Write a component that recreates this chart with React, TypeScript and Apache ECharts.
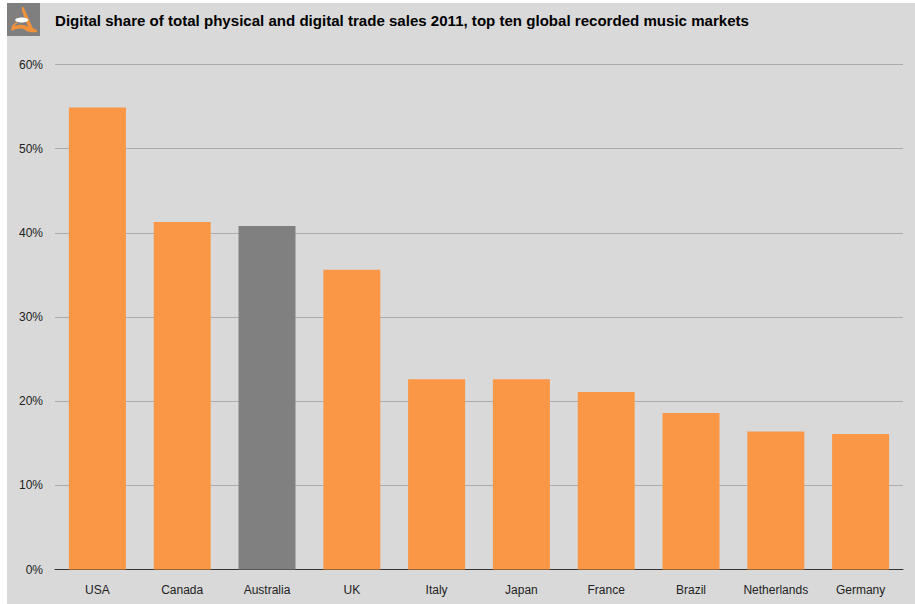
import React, { useEffect, useRef } from "react";
import * as echarts from "echarts";

const categories = ["USA", "Canada", "Australia", "UK", "Italy", "Japan", "France", "Brazil", "Netherlands", "Germany"];
const shares = [54.9, 41.3, 40.8, 35.6, 22.6, 22.6, 21.1, 18.6, 16.4, 16.1];
const highlighted = "Australia";
const title = "Digital share of total physical and digital trade sales 2011, top ten global recorded music markets";

echarts.graphic.registerShape(
  "logoMark",
  echarts.graphic.extendPath(
    "M22 7 L23.5 7 L31 24 C32 28 34 29 37 30 L37 32 C32 33 28 32 25 30 C21 27 16 29 11 31 L12 26 L16 22 L18 23 C16 24 15 25 14.5 26.5 C19 24 24 24 28 27 L22 11 Z",
    {}
  )
);

export default function App() {
  const ref = useRef<HTMLDivElement>(null);
  useEffect(() => {
    document.body.style.margin = "0";
    document.body.style.background = "#fff";
    const chart = echarts.init(ref.current!, null, { renderer: "svg" });
    chart.setOption({
      animation: false,
      backgroundColor: "#fff",
      textStyle: { fontFamily: "Liberation Sans, Arial, sans-serif" },
      grid: { left: 55, right: 12, top: 64.5, bottom: 34.5, containLabel: false },
      xAxis: {
        type: "category",
        data: categories,
        axisLine: { lineStyle: { color: "#333", width: 1 } },
        axisTick: { show: false },
        axisLabel: { color: "#222", fontSize: 12, margin: 14 },
      },
      yAxis: {
        type: "value",
        min: 0,
        max: 60,
        interval: 10,
        axisLine: { show: false },
        axisTick: { show: false },
        axisLabel: { color: "#222", fontSize: 12, margin: 12, formatter: "{value}%" },
        splitLine: { lineStyle: { color: "#ababab", width: 1 } },
      },
      series: [
        {
          type: "bar",
          barWidth: 57,
          data: categories.map((c, i) => ({
            value: shares[i],
            itemStyle: { color: c === highlighted ? "#808080" : "#fa9747" },
          })),
        },
      ],
      graphic: [
        { type: "rect", z: -10, silent: true, shape: { x: 7, y: 3, width: 908, height: 601 }, style: { fill: "#d9d9d9" } },
        { type: "rect", shape: { x: 7, y: 3, width: 33, height: 33 }, style: { fill: "#7f7f7f" }, z: 5 },
        { type: "logoMark", x: 0, y: 0, style: { fill: "#f0923c" }, z: 6 },
        { type: "ellipse", shape: { cx: 21.7, cy: 20, rx: 6.5, ry: 2.5 }, style: { fill: "#ffffff" }, z: 7 },
        {
          type: "text",
          x: 55,
          y: 20.5,
          style: {
            text: title,
            fontFamily: "Liberation Sans, Arial, sans-serif",
            fontSize: 15.07,
            fontWeight: "bold",
            fill: "#000",
            verticalAlign: "middle",
          },
          z: 5,
        },
      ],
    });
    return () => chart.dispose();
  }, []);
  return <div ref={ref} style={{ width: 915, height: 604 }} />;
}
